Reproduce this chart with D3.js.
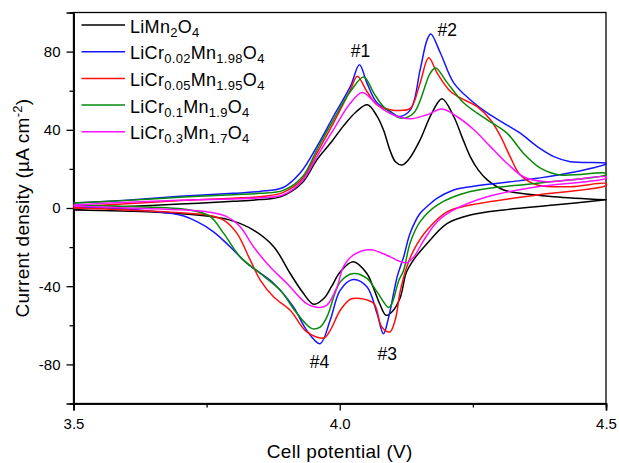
<!DOCTYPE html>
<html>
<head>
<meta charset="utf-8">
<script src="https://cdn.jsdelivr.net/npm/d3@7"></script>
<style>
  body { margin: 0; background: #fff; }
  text { font-family: "Liberation Sans", Arial, sans-serif; fill: #000; }
</style>
</head>
<body>
<div id="root"></div>
<script>
// potential (V), current density (uA cm-2); anodic = forward scan, cathodic = reverse
const limn2o4Anodic = [[3.50,-0.5],[3.60,0.8],[3.70,2],[3.80,3.4],[3.85,4.3],[3.89,5.8],[3.93,13],[3.957,24.6],[3.985,34],[4.007,42],[4.03,49],[4.052,52.8],[4.07,47],[4.082,40],[4.095,29],[4.105,23.5],[4.117,22],[4.13,25],[4.151,34.9],[4.172,48],[4.192,55.9],[4.214,46.8],[4.23,36],[4.245,26.3],[4.26,19.5],[4.277,14.4],[4.308,9.2],[4.339,7.5],[4.402,5.8],[4.5,4.2]];
const limn2o4Cathodic = [[4.5,4.2],[4.402,1.5],[4.308,-1],[4.245,-3.6],[4.202,-7.9],[4.164,-18.1],[4.14,-26],[4.125,-33],[4.114,-45.5],[4.1,-52.5],[4.087,-54.9],[4.075,-49],[4.062,-40],[4.051,-33.5],[4.025,-27.5],[4.0,-33],[3.985,-40],[3.970,-46.3],[3.951,-49.2],[3.93,-43],[3.907,-33.5],[3.876,-19.8],[3.838,-11.3],[3.794,-6.2],[3.732,-3.6],[3.65,-2],[3.5,-1]];

const cr002Anodic = [[3.5,2.5],[3.6,4],[3.7,6],[3.8,7.5],[3.85,8.5],[3.894,10.5],[3.926,18],[3.957,31.4],[3.988,46.8],[4.02,62.2],[4.037,73.3],[4.051,64],[4.07,53.8],[4.095,49.4],[4.111,46.8],[4.133,50.3],[4.151,70.8],[4.164,86],[4.171,89],[4.189,79.3],[4.214,64],[4.245,55.4],[4.277,48.6],[4.308,43.4],[4.339,38.3],[4.371,31.4],[4.402,26.3],[4.433,23.7],[4.5,22.9]];
const cr002Cathodic = [[4.5,22.5],[4.433,18],[4.371,15.2],[4.339,14],[4.245,10.9],[4.214,9.2],[4.183,5],[4.165,1],[4.151,-2.7],[4.132,-13],[4.12,-25],[4.108,-35],[4.092,-55.7],[4.082,-64.3],[4.07,-54],[4.051,-40.3],[4.025,-36.6],[4.001,-42],[3.982,-57.4],[3.963,-69.4],[3.938,-62.6],[3.913,-50.6],[3.876,-38.6],[3.826,-28.4],[3.794,-19.8],[3.763,-12.2],[3.732,-7],[3.70,-3.6],[3.6,-0.5],[3.5,0.5]];

const cr005Anodic = [[3.5,0.5],[3.6,2.2],[3.7,3.8],[3.8,5],[3.85,5.8],[3.894,8],[3.93,15],[3.957,28],[3.988,43.4],[4.02,60.5],[4.033,67.4],[4.051,59.6],[4.07,52.8],[4.095,50.3],[4.114,49.9],[4.133,51.1],[4.151,64],[4.167,76.8],[4.183,69],[4.208,59.6],[4.233,55.4],[4.258,51.9],[4.283,45.1],[4.302,36.6],[4.32,26.3],[4.339,16.9],[4.371,11.8],[4.433,10.9],[4.5,12.5]];
const cr005Cathodic = [[4.5,11.5],[4.371,6.7],[4.245,1.5],[4.202,-1.9],[4.164,-11.3],[4.139,-21.5],[4.126,-30],[4.114,-42],[4.104,-57.4],[4.094,-63.4],[4.079,-60.9],[4.064,-48.9],[4.039,-46.3],[4.02,-46.7],[4.001,-52.3],[3.982,-62.6],[3.97,-66.5],[3.938,-63.4],[3.907,-52.3],[3.876,-45.5],[3.851,-37],[3.832,-26.7],[3.807,-13],[3.782,-6.2],[3.75,-3.6],[3.70,-2.4],[3.6,-1],[3.5,0]];

const cr01Anodic = [[3.5,2.5],[3.6,3.9],[3.7,5.5],[3.8,6.8],[3.85,7.5],[3.894,9],[3.93,16],[3.957,29.7],[3.988,45.1],[4.02,59.6],[4.045,67],[4.064,58.8],[4.082,51.9],[4.114,46],[4.139,48.6],[4.17,69],[4.18,71.6],[4.202,64],[4.233,53.7],[4.277,45.1],[4.314,38.3],[4.345,28],[4.377,20.4],[4.414,16.9],[4.5,17.8]];
const cr01Cathodic = [[4.5,17],[4.371,12.7],[4.245,8.4],[4.183,1.5],[4.151,-7],[4.132,-18],[4.12,-31.8],[4.111,-37],[4.098,-48.9],[4.092,-50.9],[4.07,-42.9],[4.051,-36],[4.026,-33.5],[4.001,-37.8],[3.976,-55.7],[3.963,-60.9],[3.948,-61.7],[3.92,-54],[3.888,-42],[3.851,-33.5],[3.813,-25],[3.782,-13],[3.757,-4.4],[3.719,-1],[3.6,0.8],[3.5,1.5]];

const cr03Anodic = [[3.5,1.5],[3.6,3],[3.7,4],[3.8,4.6],[3.85,5.2],[3.894,6.8],[3.93,14],[3.957,26.3],[3.988,40],[4.02,53.7],[4.042,59.1],[4.064,54.5],[4.082,50.3],[4.108,46.8],[4.133,45.6],[4.164,47.7],[4.192,50.6],[4.22,46.8],[4.252,40],[4.283,31.4],[4.314,22.9],[4.345,16],[4.383,13.5],[4.433,14.4],[4.5,16]];
const cr03Cathodic = [[4.5,15.2],[4.371,10.9],[4.277,5.8],[4.214,-1],[4.183,-7],[4.158,-16.4],[4.139,-25],[4.126,-28],[4.11,-27],[4.095,-25],[4.057,-21.3],[4.026,-24],[4.007,-30],[3.995,-40.3],[3.976,-49.7],[3.963,-50.9],[3.938,-48.9],[3.901,-38.6],[3.869,-30.1],[3.838,-19.8],[3.813,-9.6],[3.788,-4.4],[3.75,-1.9],[3.6,0],[3.5,1]];

const seriesLabels = ["LiMn_{2}O_{4}", "LiCr_{0.02}Mn_{1.98}O_{4}", "LiCr_{0.05}Mn_{1.95}O_{4}", "LiCr_{0.1}Mn_{1.9}O_{4}", "LiCr_{0.3}Mn_{1.7}O_{4}"];
const seriesColors = ["#000000", "#1515ff", "#ff1010", "#088a08", "#ff10ff"];
const seriesLoops = [
  limn2o4Anodic.concat(limn2o4Cathodic),
  cr002Anodic.concat(cr002Cathodic),
  cr005Anodic.concat(cr005Cathodic),
  cr01Anodic.concat(cr01Cathodic),
  cr03Anodic.concat(cr03Cathodic)
];

const xTicks = [3.5, 4.0, 4.5];
const xMinorTicks = [3.75, 4.25];
const yTicks = [-80, -40, 0, 40, 80];
const yMinorTicks = [-60, -20, 20, 60];

const peakLabels = ["#1", "#2", "#3", "#4"];
const peakPos = [[4.039, 77], [4.202, 88], [4.089, -78], [3.962, -82]];

const width = 619, height = 463;
const plotLeft = 73.5, plotRight = 606, plotTop = 12.5, plotBottom = 403.5;

const svg = d3.select("#root").append("svg")
  .attr("width", width).attr("height", height);

const x = d3.scaleLinear().domain([3.5, 4.5]).range([plotLeft, plotRight]);
const y = d3.scaleLinear().domain([-100, 100]).range([plotBottom, plotTop]);

// frame
svg.append("rect")
  .attr("x", plotLeft).attr("y", plotTop)
  .attr("width", plotRight - plotLeft).attr("height", plotBottom - plotTop)
  .attr("fill", "none").attr("stroke", "#000").attr("stroke-width", 1.3);

// axes
svg.append("g").attr("transform", `translate(0,${plotBottom})`)
  .call(d3.axisBottom(x).tickValues(xTicks).tickFormat(d3.format(".1f")).tickSize(7).tickPadding(8));
svg.append("g").attr("transform", `translate(0,${plotBottom})`)
  .call(d3.axisBottom(x).tickValues(xMinorTicks).tickFormat("").tickSize(4));
svg.append("g").attr("transform", `translate(${plotLeft},0)`)
  .call(d3.axisLeft(y).tickValues(yTicks).tickFormat(d => String(d)).tickSize(7).tickPadding(6));
svg.append("g").attr("transform", `translate(${plotLeft},0)`)
  .call(d3.axisLeft(y).tickValues(yMinorTicks).tickFormat("").tickSize(4));

svg.selectAll(".domain").attr("stroke", "#000").attr("stroke-width", 1.6);
svg.selectAll(".tick line").attr("stroke", "#000").attr("stroke-width", 1.3);
svg.selectAll(".tick text").style("font-size", "15px").attr("fill", "#000")
  .style("font-family", '"Liberation Sans", Arial, sans-serif');

// axis titles
svg.append("text")
  .attr("x", (plotLeft + plotRight) / 2).attr("y", 458)
  .attr("text-anchor", "middle").style("font-size", "19px")
  .style("letter-spacing", "0.3px")
  .text("Cell potential (V)");

const yTitle = svg.append("text")
  .attr("transform", `translate(29,${(plotTop + plotBottom) / 2}) rotate(-90)`)
  .attr("text-anchor", "middle").style("font-size", "19px")
  .style("letter-spacing", "0.3px");
yTitle.append("tspan").text("Current density (\u00b5A cm");
yTitle.append("tspan").attr("baseline-shift", "7").style("font-size", "13px").text("-2");
yTitle.append("tspan").text(")");

// curves
const line = d3.line()
  .x(d => x(d[0]))
  .y(d => y(d[1]))
  .curve(d3.curveCatmullRom.alpha(0.5));

svg.append("g")
  .selectAll("path")
  .data(seriesLoops)
  .join("path")
  .attr("d", line)
  .attr("fill", "none")
  .attr("stroke", (d, i) => seriesColors[i])
  .attr("stroke-width", 1.5)
  .attr("stroke-linejoin", "round");

// peak labels
svg.append("g")
  .selectAll("text")
  .data(peakLabels)
  .join("text")
  .attr("x", (d, i) => x(peakPos[i][0]))
  .attr("y", (d, i) => y(peakPos[i][1]))
  .attr("text-anchor", "middle")
  .style("font-size", "17.5px")
  .text(d => d);

// legend
const legend = svg.append("g").attr("id", "legend");
seriesLabels.forEach((label, i) => {
  const ly = 25 + i * 26.7;
  legend.append("line")
    .attr("x1", 81.5).attr("x2", 125)
    .attr("y1", ly).attr("y2", ly)
    .attr("stroke", seriesColors[i]).attr("stroke-width", 1.5);
  const t = legend.append("text")
    .attr("x", 130).attr("y", ly + 7.5)
    .style("font-size", "18px")
    .style("letter-spacing", "0.3px");
  label.split(/(_\{[^}]*\})/).filter(s => s.length).forEach(part => {
    if (part.startsWith("_{")) {
      t.append("tspan").attr("baseline-shift", "-4").style("font-size", "13px")
        .text(part.slice(2, -1));
    } else {
      t.append("tspan").text(part);
    }
  });
});
</script>
</body>
</html>
